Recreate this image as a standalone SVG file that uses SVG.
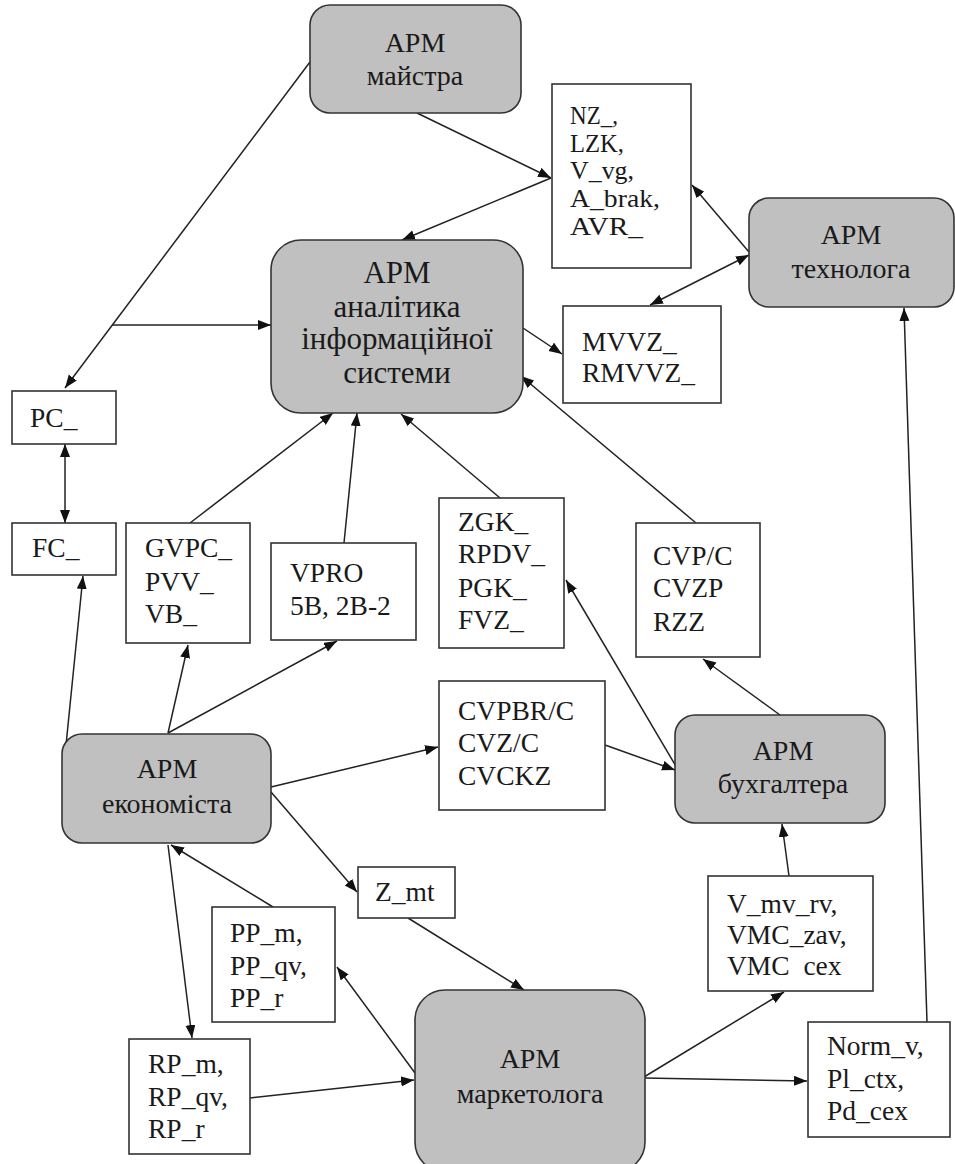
<svg xmlns="http://www.w3.org/2000/svg" width="955" height="1164" viewBox="0 0 955 1164">
  <style>
    .arm { fill: #c0c0c0; stroke: #333; stroke-width: 1.6; }
    .box { fill: #fff; stroke: #333; stroke-width: 1.6; }
    text { font-family: 'Liberation Serif', 'Times New Roman', serif; fill: #1a1a1a; }
    .t { font-size: 28px; }
    .ta { font-size: 31px; }
    .tn { font-size: 27.5px; }
    .tl { font-size: 25px; }
    .c { text-anchor: middle; }
    .edge { fill: none; stroke: #222; stroke-width: 1.5; }
    .a { marker-end: url(#arrow); }
    .b { marker-start: url(#arrow); marker-end: url(#arrow); }
  </style>
  <defs>
    <marker id="arrow" markerUnits="userSpaceOnUse" markerWidth="14" markerHeight="11" refX="13" refY="5" orient="auto-start-reverse">
      <path d="M0,0 L13,5 L0,10 z" fill="#111"/>
    </marker>
  </defs>
  <rect width="955" height="1164" fill="#fff"/>

  <!-- information flows between workstations and data sets -->
  <g id="connectors">
    <path class="edge a" d="M310,62 L65,388" stroke-width="2.4"/>
    <path class="edge a" d="M112,325 L271,325"/>
    <path class="edge a" d="M417,113 L551,178"/>
    <path class="edge a" d="M551,178 L402,240"/>
    <path class="edge a" d="M749,252 L692,185"/>
    <path class="edge b" d="M650,305 L749,255"/>
    <path class="edge a" d="M523,328 L562,354"/>
    <path class="edge a" d="M696,523 L521,376"/>
    <path class="edge a" d="M500,498 L401,414"/>
    <path class="edge a" d="M344,543 L357,413"/>
    <path class="edge a" d="M190,523 L333,413"/>
    <path class="edge b" d="M65,444 L65,523"/>
    <path class="edge a" d="M64,765 L83,576"/>
    <path class="edge a" d="M168,733 L188,645"/>
    <path class="edge a" d="M168,733 L337,641"/>
    <path class="edge a" d="M271,787 L438,747"/>
    <path class="edge a" d="M271,792 L357,892"/>
    <path class="edge a" d="M408,918 L524,990"/>
    <path class="edge a" d="M273,907 L171,845"/>
    <path class="edge a" d="M168,845 L192,1038"/>
    <path class="edge a" d="M415,1073 L337,967"/>
    <path class="edge a" d="M250,1098 L414,1080"/>
    <path class="edge a" d="M605,745 L675,770"/>
    <path class="edge a" d="M677,768 L566,580"/>
    <path class="edge a" d="M780,715 L703,659"/>
    <path class="edge a" d="M789,876 L782,824"/>
    <path class="edge a" d="M644,1077 L784,992"/>
    <path class="edge a" d="M645,1078 L807,1081"/>
    <path class="edge a" d="M927,1022 L904,308"/>
  </g>

  <g id="arm-maistra">
    <rect class="arm" x="310" y="5" width="211" height="108" rx="20"/>
    <text class="t c" x="415" y="52">АРМ</text>
    <text class="t c" x="415" y="85">майстра</text>
  </g>
  <g id="data-nz">
    <rect class="box" x="552" y="84" width="139" height="184"/>
    <text class="tl" x="570" y="124" textLength="48" lengthAdjust="spacingAndGlyphs">NZ_,</text>
    <text class="tl" x="570" y="152" textLength="54" lengthAdjust="spacingAndGlyphs">LZK,</text>
    <text class="tl" x="570" y="179" textLength="64" lengthAdjust="spacingAndGlyphs">V_vg,</text>
    <text class="tl" x="570" y="207" textLength="90" lengthAdjust="spacingAndGlyphs">A_brak,</text>
    <text class="tl" x="570" y="235" textLength="73" lengthAdjust="spacingAndGlyphs">AVR_</text>
  </g>
  <g id="arm-tekhnologa">
    <rect class="arm" x="749" y="198" width="205" height="109" rx="20"/>
    <text class="t c" x="851" y="244">АРМ</text>
    <text class="t c" x="851" y="278">технолога</text>
  </g>
  <g id="arm-analityka">
    <rect class="arm" x="271" y="240" width="252" height="173" rx="30"/>
    <text class="ta c" x="397" y="283">АРМ</text>
    <text class="ta c" x="397" y="317">аналітика</text>
    <text class="ta c" x="397" y="349">інформаційної</text>
    <text class="ta c" x="397" y="383">системи</text>
  </g>
  <g id="data-mvvz">
    <rect class="box" x="563" y="306" width="158" height="97"/>
    <text class="tn" x="582" y="351">MVVZ_</text>
    <text class="tn" x="582" y="382">RMVVZ_</text>
  </g>
  <g id="data-pc">
    <rect class="box" x="12" y="391" width="104" height="53"/>
    <text class="tn" x="30" y="427">PC_</text>
  </g>
  <g id="data-fc">
    <rect class="box" x="12" y="523" width="104" height="52"/>
    <text class="tn" x="32" y="557">FC_</text>
  </g>
  <g id="data-gvpc">
    <rect class="box" x="126" y="523" width="124" height="120"/>
    <text class="tn" x="145" y="557">GVPC_</text>
    <text class="tn" x="145" y="591">PVV_</text>
    <text class="tn" x="145" y="623">VB_</text>
  </g>
  <g id="data-vpro">
    <rect class="box" x="271" y="543" width="145" height="97"/>
    <text class="tn" x="290" y="582">VPRO</text>
    <text class="tn" x="290" y="615">5B, 2B-2</text>
  </g>
  <g id="data-zgk">
    <rect class="box" x="439" y="498" width="125" height="150"/>
    <text class="tn" x="458" y="531">ZGK_</text>
    <text class="tn" x="458" y="563">RPDV_</text>
    <text class="tn" x="458" y="597">PGK_</text>
    <text class="tn" x="458" y="629">FVZ_</text>
  </g>
  <g id="data-cvp">
    <rect class="box" x="636" y="523" width="124" height="134"/>
    <text class="tn" x="653" y="565">CVP/C</text>
    <text class="tn" x="653" y="597">CVZP</text>
    <text class="tn" x="653" y="631">RZZ</text>
  </g>
  <g id="data-cvpbr">
    <rect class="box" x="439" y="681" width="166" height="129"/>
    <text class="tn" x="458" y="720">CVPBR/C</text>
    <text class="tn" x="458" y="752">CVZ/C</text>
    <text class="tn" x="458" y="785">CVCKZ</text>
  </g>
  <g id="arm-bukhgaltera">
    <rect class="arm" x="675" y="715" width="210" height="108" rx="20"/>
    <text class="t c" x="783" y="760">АРМ</text>
    <text class="t c" x="783" y="793">бухгалтера</text>
  </g>
  <g id="arm-ekonomista">
    <rect class="arm" x="62" y="734" width="209" height="109" rx="20"/>
    <text class="t c" x="167" y="778">АРМ</text>
    <text class="t c" x="167" y="813">економіста</text>
  </g>
  <g id="data-zmt">
    <rect class="box" x="358" y="867" width="97" height="51"/>
    <text class="tn" x="375" y="901">Z_mt</text>
  </g>
  <g id="data-pp">
    <rect class="box" x="212" y="907" width="123" height="115"/>
    <text class="tn" x="230" y="942">PP_m,</text>
    <text class="tn" x="230" y="975">PP_qv,</text>
    <text class="tn" x="230" y="1007">PP_r</text>
  </g>
  <g id="data-vmv">
    <rect class="box" x="708" y="876" width="165" height="115"/>
    <text class="tn" x="727" y="913">V_mv_rv,</text>
    <text class="tn" x="727" y="944">VMC_zav,</text>
    <text class="tn" x="727" y="975">VMC&#160;&#160;cex</text>
  </g>
  <g id="data-rp">
    <rect class="box" x="129" y="1039" width="121" height="115"/>
    <text class="tn" x="148" y="1073">RP_m,</text>
    <text class="tn" x="148" y="1106">RP_qv,</text>
    <text class="tn" x="148" y="1138">RP_r</text>
  </g>
  <g id="arm-marketologa">
    <rect class="arm" x="415" y="990" width="230" height="182" rx="30"/>
    <text class="t c" x="530" y="1068">АРМ</text>
    <text class="t c" x="530" y="1103">маркетолога</text>
  </g>
  <g id="data-norm">
    <rect class="box" x="808" y="1022" width="142" height="115"/>
    <text class="tn" x="827" y="1055">Norm_v,</text>
    <text class="tn" x="827" y="1088">Pl_ctx,</text>
    <text class="tn" x="827" y="1120">Pd_cex</text>
  </g>
</svg>
